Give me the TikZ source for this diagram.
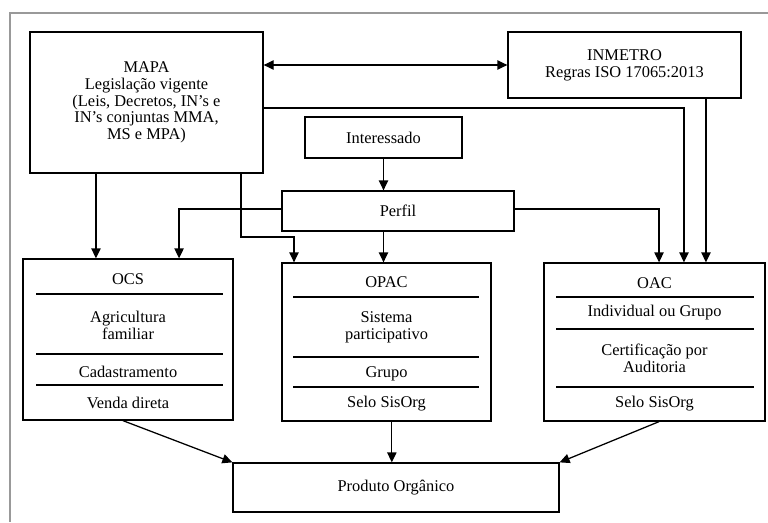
\documentclass[tikz,border=0pt]{standalone}
\usepackage{fontspec}
\setmainfont{Liberation Serif}
\usetikzlibrary{arrows.meta}
\newcommand{\px}{0.75pt}
\tikzset{caixa/.style={draw,rectangle,inner sep=0pt,align=center},
	texto/.style={inner sep=0pt,align=center},
	ponta/.tip={Triangle[length=7.5pt,width=7pt]},
	seta/.style={-ponta},
	dupla/.style={ponta-ponta},
	moldura/.style={draw=gray!80,line width=1pt}}

\begin{document}
\begin{tikzpicture}
	[x=0.75pt,y=-0.75pt,line width=0.95pt,
	every node/.style={font=\fontsize{12.3}{12.6}\selectfont}]
	\useasboundingbox (0,0) rectangle (768,522);
	\draw[moldura] (768,13) -- (10,13) -- (10,522);

	% caixas de cima
	\node[caixa,minimum width=233*\px,minimum height=141*\px] (mapa) at (146.5,102.5)
		{MAPA\\Legislação vigente\\(Leis, Decretos, IN’s e\\IN’s conjuntas MMA,\\MS e MPA)};
	\node[caixa,minimum width=233*\px,minimum height=66*\px] (inmetro) at (624.5,65)
		{INMETRO\\Regras ISO 17065:2013};
	\node[caixa,minimum width=157*\px,minimum height=41*\px] (interessado) at (383.5,137.5) {Interessado};
	\node[caixa,minimum width=232*\px,minimum height=40*\px] (perfil) at (398,211) {Perfil};

	% OCS
	\node[caixa,minimum width=210*\px,minimum height=161*\px] (ocs) at (128,339.5) {};
	\node[texto] (ocs-a) at (128,279) {OCS};
	\node[texto] (ocs-b) at (128,325.5) {Agricultura\\familiar};
	\node[texto] (ocs-c) at (128,372) {Cadastramento};
	\node[texto] (ocs-d) at (128,403) {Venda direta};
	\draw (36,294) -- (223,294);
	\draw (36,354) -- (223,354);
	\draw (36,385) -- (223,385);

	% OPAC
	\node[caixa,minimum width=209*\px,minimum height=158*\px] (opac) at (386.5,342) {};
	\node[texto] (opac-a) at (386.5,282) {OPAC};
	\node[texto] (opac-b) at (386.5,327) {Sistema\\participativo};
	\node[texto] (opac-c) at (386.5,374) {Grupo};
	\node[texto] (opac-d) at (386.5,404) {Selo SisOrg};
	\draw (293,297) -- (479,297);
	\draw (293,357) -- (479,357);
	\draw (293,387) -- (479,387);

	% OAC
	\node[caixa,minimum width=221*\px,minimum height=158*\px] (oac) at (654.5,342) {};
	\node[texto] (oac-a) at (654.5,283) {OAC};
	\node[texto] (oac-b) at (654.5,313) {Individual ou Grupo};
	\node[texto] (oac-c) at (654.5,358.5) {Certificação por\\Auditoria};
	\node[texto] (oac-d) at (654.5,404) {Selo SisOrg};
	\draw (556,297) -- (754,297);
	\draw (556,329) -- (754,329);
	\draw (556,387) -- (754,387);

	\node[caixa,minimum width=326*\px,minimum height=49*\px] (produto) at (396,487.5) {Produto Orgânico};

	% ligacoes
	\coordinate (dobra) at (294,237);
	\draw[dupla] (mapa.east |- inmetro.west) -- (inmetro.west);
	\draw[seta] ([yshift=-4.1pt]mapa.east) -| ([xshift=22.1pt]oac.north);
	\draw[seta] ([xshift=61.1pt]inmetro.south) -- ([xshift=61.1pt]inmetro.south |- oac.north);
	\draw[seta] (interessado.south) -- (interessado.south |- perfil.north);
	\draw[seta] (interessado.south |- perfil.south) -- (interessado.south |- opac.north);
	\draw[seta] ([yshift=1.5pt]perfil.west) -| ([xshift=38.3pt]ocs.north);
	\draw[seta] ([yshift=1.5pt]perfil.east) -| ([xshift=3.4pt]oac.north);
	\draw[seta] ([xshift=-37.9pt]mapa.south) -- ([xshift=-37.9pt]mapa.south |- ocs.north);
	\draw[seta] ([xshift=70.9pt]mapa.south) |- (dobra) -- (dobra |- opac.north);
	\draw[seta] ([xshift=-3.8pt]ocs.south) -- (produto.north west);
	\draw[seta] ([xshift=4pt]opac.south) -- ([xshift=4pt]opac.south |- produto.north);
	\draw[seta] ([xshift=3.4pt]oac.south) -- (produto.north east);
\end{tikzpicture}
\end{document}
